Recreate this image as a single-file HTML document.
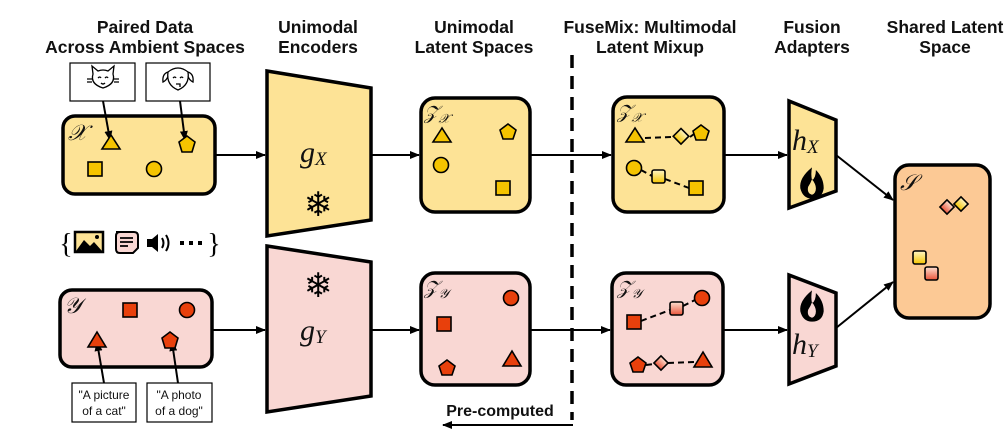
<!DOCTYPE html>
<html><head><meta charset="utf-8"><style>
html,body{margin:0;padding:0;background:#fff;}
svg{display:block;}
.t{font-family:"Liberation Sans",sans-serif;font-weight:bold;font-size:17.5px;text-anchor:middle;fill:#111;}
.m{font-family:"Liberation Serif",serif;font-style:italic;fill:#111;}
.s{font-family:"Liberation Sans",sans-serif;font-size:12px;text-anchor:middle;fill:#111;}
</style></head><body>
<svg width="1008" height="438" viewBox="0 0 1008 438" xmlns="http://www.w3.org/2000/svg">
<defs>
<marker id="ar" markerWidth="10" markerHeight="8" refX="9" refY="4" orient="auto" markerUnits="userSpaceOnUse">
<path d="M0,0 L10,4 L0,8 z" fill="#000"/></marker>
<linearGradient id="gy" x1="0" y1="0" x2="0" y2="1"><stop offset="0" stop-color="#fff6c8"/><stop offset="1" stop-color="#f5c400"/></linearGradient>
<linearGradient id="gr" x1="0" y1="0" x2="0" y2="1"><stop offset="0" stop-color="#fde0d0"/><stop offset="1" stop-color="#e9543a"/></linearGradient>
</defs>
<text class="t" x="145" y="33">Paired Data</text><text class="t" x="145" y="53">Across Ambient Spaces</text>
<text class="t" x="318" y="33">Unimodal</text><text class="t" x="318" y="53">Encoders</text>
<text class="t" x="474" y="33">Unimodal</text><text class="t" x="474" y="53">Latent Spaces</text>
<text class="t" x="650" y="33">FuseMix: Multimodal</text><text class="t" x="650" y="53">Latent Mixup</text>
<text class="t" x="812" y="33">Fusion</text><text class="t" x="812" y="53">Adapters</text>
<text class="t" x="945" y="33">Shared Latent</text><text class="t" x="945" y="53">Space</text>

<line x1="572" y1="55" x2="572" y2="420" stroke="#000" stroke-width="3.5" stroke-dasharray="13,8"/>
<text class="t" x="500" y="416" style="font-size:16px">Pre-computed</text>
<line x1="573" y1="425" x2="443" y2="425" stroke="#000" stroke-width="2" marker-end="url(#ar)"/>

<g stroke="#000" stroke-width="3.5">
<rect x="63" y="116" width="152" height="78" rx="12" fill="#fde396"/>
<rect x="60" y="290" width="152" height="77" rx="12" fill="#f9d7d3"/>
<polygon points="267,71 371,88 371,220 267,236" fill="#fde396"/>
<polygon points="267,246 371,262 371,396 267,412" fill="#f9d7d3"/>
<rect x="421" y="98" width="109" height="114" rx="14" fill="#fde396"/>
<rect x="421" y="273" width="109" height="112" rx="14" fill="#f9d7d3"/>
<rect x="613" y="97" width="111" height="115" rx="14" fill="#fde396"/>
<rect x="612" y="273" width="111" height="112" rx="14" fill="#f9d7d3"/>
<polygon points="789,101 836,120 836,191 789,208" fill="#fde396"/>
<polygon points="789,275 836,293 836,366 789,384" fill="#f9d7d3"/>
<rect x="895" y="165" width="95" height="153" rx="14" fill="#fcc995"/>
</g>

<g stroke="#000" stroke-width="2" fill="none">
<line x1="215" y1="155" x2="265" y2="155" marker-end="url(#ar)"/>
<line x1="212" y1="330" x2="265" y2="330" marker-end="url(#ar)"/>
<line x1="371" y1="155" x2="419" y2="155" marker-end="url(#ar)"/>
<line x1="371" y1="330" x2="419" y2="330" marker-end="url(#ar)"/>
<line x1="530" y1="155" x2="611" y2="155" marker-end="url(#ar)"/>
<line x1="530" y1="330" x2="610" y2="330" marker-end="url(#ar)"/>
<line x1="724" y1="155" x2="787" y2="155" marker-end="url(#ar)"/>
<line x1="723" y1="330" x2="787" y2="330" marker-end="url(#ar)"/>
<line x1="836" y1="155" x2="893" y2="200" marker-end="url(#ar)"/>
<line x1="836" y1="328" x2="893" y2="282" marker-end="url(#ar)"/>
<line x1="103" y1="101" x2="110" y2="140" marker-end="url(#ar)"/>
<line x1="180" y1="101" x2="185" y2="140" marker-end="url(#ar)"/>
<line x1="104" y1="383" x2="97" y2="342" marker-end="url(#ar)"/>
<line x1="178" y1="383" x2="172" y2="342" marker-end="url(#ar)"/>
</g>

<g stroke="#000" stroke-width="1.2" fill="#fff">
<rect x="70" y="63" width="65" height="38"/><rect x="146" y="63" width="64" height="38"/>
<rect x="72" y="383" width="64" height="39"/><rect x="147" y="383" width="65" height="39"/>
</g>
<g stroke="#000" stroke-width="1.3" fill="none">
<path d="M93,74 L92,66 L98,71 Q103,69 108,71 L114,66 L113,74 Q116,84 103,88 Q90,84 93,74z"/>
<path d="M98,78 q2,-2 3,0 M105,78 q2,-2 3,0 M101,83 q2,2 4,0 M92,79 h-5 M92,82 h-5 M114,79 h5 M114,82 h5"/>
<path d="M168,72 Q178,64 188,72 Q190,85 178,90 Q166,85 168,72z M168,72 Q162,74 163,82 Q167,80 168,76 M188,72 Q194,74 193,82 Q189,80 188,76"/>
<path d="M173,78 q2,-2 3,0 M180,78 q2,-2 3,0 M176,84 h4 v3"/>
</g>
<text class="s" x="104" y="399">"A picture</text><text class="s" x="104" y="415">of a cat"</text>
<text class="s" x="179" y="399">"A photo</text><text class="s" x="179" y="415">of a dog"</text>

<text class="m" x="68" y="140" font-size="22">𝒳</text>
<text class="m" x="64" y="313" font-size="22">𝒴</text>
<text class="m" x="424" y="119" font-size="19">𝒵<tspan font-size="13" dy="4">𝒳</tspan></text>
<text class="m" x="424" y="294" font-size="19">𝒵<tspan font-size="13" dy="4">𝒴</tspan></text>
<text class="m" x="617" y="118" font-size="19">𝒵<tspan font-size="13" dy="4">𝒳</tspan></text>
<text class="m" x="617" y="294" font-size="19">𝒵<tspan font-size="13" dy="4">𝒴</tspan></text>
<text class="m" x="900" y="190" font-size="22">𝒮</text>
<text class="m" x="300" y="162" font-size="30">g<tspan font-size="19" dy="3">X</tspan></text>
<text class="m" x="300" y="340" font-size="30">g<tspan font-size="19" dy="3">Y</tspan></text>
<text class="m" x="792" y="150" font-size="30">h<tspan font-size="19" dy="3">X</tspan></text>
<text class="m" x="792" y="354" font-size="30">h<tspan font-size="19" dy="3">Y</tspan></text>
<text x="318" y="216" font-size="34" text-anchor="middle" font-family="DejaVu Sans">❄</text>
<text x="318" y="297" font-size="34" text-anchor="middle" font-family="DejaVu Sans">❄</text>
<g transform="translate(812,183) scale(1.3) translate(-812,-183)">
<path d="M812,171 q-10,8 -9,16 q2,8 9,8 q8,0 9,-8 q0,-8 -6,-14 q0,6 -3,8 q-1,-5 0,-10z M812,192 q-4,-1 -3,-6 q2,-3 3,-6 q3,4 3,7 q0,4 -3,5z" fill="#000" fill-rule="evenodd"/></g>
<g transform="translate(812,306) scale(1.3) translate(-812,-306)">
<path d="M812,294 q-10,8 -9,16 q2,8 9,8 q8,0 9,-8 q0,-8 -6,-14 q0,6 -3,8 q-1,-5 0,-10z M812,315 q-4,-1 -3,-6 q2,-3 3,-6 q3,4 3,7 q0,4 -3,5z" fill="#000" fill-rule="evenodd"/></g>

<g stroke="#000" stroke-width="1.6" fill="#f5c400">
<polygon points="111,135 102,149 120,149"/><polygon points="187,136 195,142 192,152 182,152 179,142"/>
<rect x="88" y="162" width="14" height="14"/><circle cx="154" cy="169" r="7.5"/>
<polygon points="442,128 433,142 451,142"/><polygon points="508,124 516,130 513,139 503,139 500,130"/>
<circle cx="441" cy="165" r="7.5"/><rect x="496" y="181" width="14" height="14"/>
<polygon points="635,128 626,142 644,142"/><polygon points="701,125 709,131 706,140 696,140 693,131"/>
<circle cx="634" cy="168" r="7.5"/><rect x="689" y="181" width="14" height="14"/>
<rect x="652" y="170" width="13" height="13" rx="2" fill="url(#gy)"/>
<rect x="675" y="131" width="11" height="11" transform="rotate(45 681 137)" fill="url(#gy)"/>
<rect x="956" y="199" width="10" height="10" transform="rotate(45 961 204)" fill="url(#gy)"/>
<rect x="913" y="251" width="13" height="13" rx="2" fill="url(#gy)"/>
</g>
<g stroke="#000" stroke-width="1.6" fill="#e8400c">
<rect x="123" y="303" width="14" height="14"/><circle cx="187" cy="310" r="7.5"/>
<polygon points="97,332 88,347 106,347"/><polygon points="170,332 178,338 175,348 165,348 162,338"/>
<circle cx="511" cy="298" r="7.5"/><rect x="437" y="317" width="14" height="14"/>
<polygon points="447,360 455,366 452,375 442,375 439,366"/><polygon points="512,351 503,366 521,366"/>
<circle cx="702" cy="298" r="7.5"/><rect x="627" y="315" width="14" height="14"/>
<polygon points="638,357 646,363 643,372 633,372 630,363"/><polygon points="703,352 694,367 712,367"/>
<rect x="670" y="302" width="13" height="13" rx="2" fill="url(#gr)"/>
<rect x="656" y="358" width="10" height="10" transform="rotate(45 661 363)" fill="url(#gr)"/>
<rect x="942" y="202" width="10" height="10" transform="rotate(45 947 207)" fill="url(#gr)"/>
<rect x="925" y="267" width="13" height="13" rx="2" fill="url(#gr)"/>
</g>
<g stroke="#000" stroke-width="2" stroke-dasharray="6,4">
<line x1="645" y1="138" x2="672" y2="137"/><line x1="690" y1="137" x2="694" y2="134"/>
<line x1="641" y1="170" x2="652" y2="176"/><line x1="665" y1="179" x2="689" y2="188"/>
<line x1="641" y1="321" x2="670" y2="310"/><line x1="683" y1="306" x2="695" y2="300"/>
<line x1="646" y1="365" x2="654" y2="364"/><line x1="668" y1="363" x2="695" y2="362"/>
</g>

<text x="66" y="253" font-size="28" text-anchor="middle" font-family="Liberation Serif">{</text>
<text x="214" y="253" font-size="28" text-anchor="middle" font-family="Liberation Serif">}</text>
<rect x="75" y="232" width="28" height="20" fill="#fde396" stroke="#000" stroke-width="2.5"/>
<polygon points="76,251 84,240 90,246 94,242 102,251" fill="#000"/><circle cx="97" cy="237" r="2" fill="#000"/>
<path d="M116,232 h18 q4,0 4,4 v12 l-5,5 h-13 q-4,0 -4,-4 v-13 q0,-4 4,-4z" fill="#f9d7d3" stroke="#000" stroke-width="2"/>
<path d="M120,238 h13 M120,242 h13 M120,246 h8" stroke="#000" stroke-width="1.8"/>
<polygon points="147,239 152,239 158,234 158,252 152,247 147,247" fill="#000"/>
<path d="M162,238 q3,5 0,10 M166,235 q5,8 0,16" stroke="#000" stroke-width="2" fill="none"/>
<g fill="#000"><rect x="180" y="241" width="4" height="4"/><rect x="189" y="241" width="4" height="4"/><rect x="198" y="241" width="4" height="4"/></g>
</svg>
</body></html>
